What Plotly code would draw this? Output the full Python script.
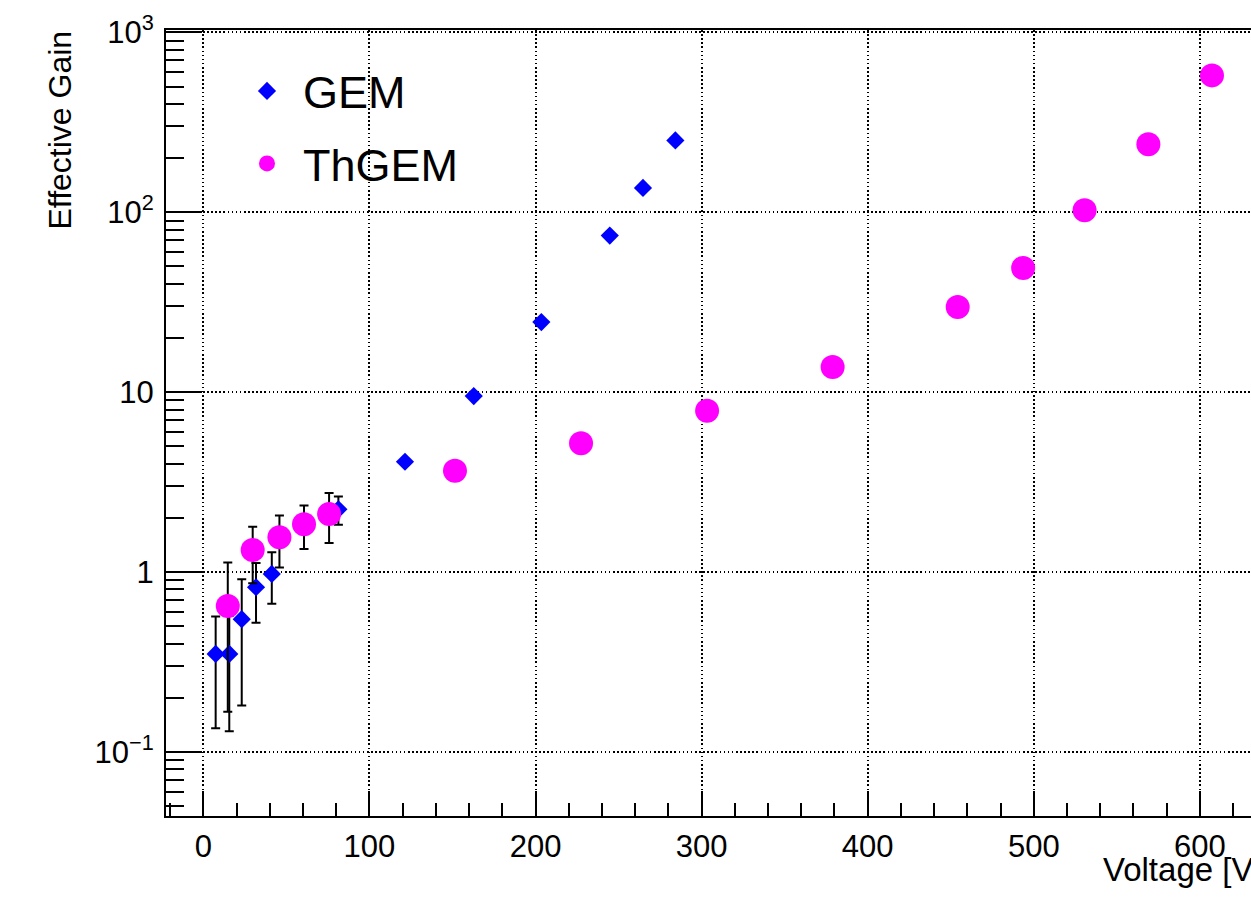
import plotly.graph_objects as go

# GEM measurements: applied voltage [V], effective gain, gain uncertainty
gem_voltage = [7.4, 15.6, 23.1, 31.7, 41.2, 81.3, 121.4, 162.8, 203.5, 244.7, 264.7, 284.2]
gem_gain = [0.35, 0.35, 0.546, 0.822, 0.975, 2.23, 4.10, 9.5, 24.5, 74.2, 136.5, 251.0]
gem_err = [0.215, 0.22, 0.365, 0.30, 0.31, 0.40, 0, 0, 0, 0, 0, 0]

# ThGEM measurements
thgem_voltage = [14.7, 29.7, 45.8, 60.6, 75.7, 151.5, 227.4, 303.3, 378.9, 454.2,
                 493.6, 530.6, 569.0, 607.3]
thgem_gain = [0.647, 1.325, 1.56, 1.84, 2.10, 3.65, 5.19, 7.87, 13.8, 29.7,
              49.0, 102.6, 239.0, 577.0]
thgem_err = [0.48, 0.46, 0.50, 0.50, 0.65, 0, 0, 0, 0, 0, 0, 0, 0, 0]

# axis ticks
x_major = [0, 100, 200, 300, 400, 500, 600]
y_major = [0.1, 1, 10, 100, 1000]
y_major_text = ["10<sup>−1</sup>", "1", "10", "10<sup>2</sup>", "10<sup>3</sup>"]
y_minor = [m * 10.0 ** e for e in range(-2, 3) for m in range(2, 10)]

FONT = "Liberation Sans, Arial, Helvetica, sans-serif"

fig = go.Figure()

fig.add_trace(go.Scatter(
    x=gem_voltage, y=gem_gain, mode="markers", name="GEM",
    marker=dict(symbol="diamond", size=14, color="#0000ff", line=dict(width=0)),
    error_y=dict(type="data", array=gem_err, visible=True, color="black",
                 thickness=2, width=4.5),
    legendgroup="a",
))
fig.add_trace(go.Scatter(
    x=thgem_voltage, y=thgem_gain, mode="markers", name="ThGEM",
    marker=dict(symbol="circle", size=24, color="#ff00ff", line=dict(width=0)),
    error_y=dict(type="data", array=thgem_err, visible=True, color="black",
                 thickness=2, width=4.5),
    legendgroup="b",
))

grid_style = dict(showgrid=True, gridcolor="black", gridwidth=1.6, griddash="1.6px,2.5px")

fig.update_xaxes(
    range=[-22.5, 630.8], tickvals=x_major,
    ticks="inside", ticklen=25, tickwidth=1.5, tickcolor="black",
    minor=dict(dtick=20, tick0=0, ticks="inside", ticklen=13, tickwidth=1.5,
               tickcolor="black", showgrid=False),
    showline=True, linecolor="black", linewidth=2, mirror=True,
    zeroline=False, ticklabelstandoff=2,
    tickfont=dict(family=FONT, size=31, color="black"),
    **grid_style,
)
fig.update_yaxes(
    type="log", range=[-1.357, 3.0135],
    tickvals=y_major, ticktext=y_major_text,
    ticks="inside", ticklen=36, tickwidth=1.5, tickcolor="black",
    minor=dict(tickvals=y_minor, ticks="inside", ticklen=18, tickwidth=1.5,
               tickcolor="black", showgrid=False),
    showline=True, linecolor="black", linewidth=2, mirror=False,
    zeroline=False, ticklabelstandoff=4,
    tickfont=dict(family=FONT, size=31, color="black"),
    **grid_style,
)

fig.add_annotation(
    text="Effective Gain", textangle=-90, showarrow=False,
    xref="paper", yref="paper", x=-0.0977, y=1.0025,
    xanchor="center", yanchor="top",
    font=dict(family=FONT, size=32, color="black"),
)
fig.add_annotation(
    text="Voltage [V]", showarrow=False,
    xref="paper", yref="paper", x=0.8618, y=-0.0675,
    xanchor="left", yanchor="middle",
    font=dict(family=FONT, size=33, color="black"),
)

fig.update_layout(
    width=1251, height=900,
    margin=dict(l=166, r=0, t=30, b=84, pad=0),
    paper_bgcolor="white", plot_bgcolor="white",
    showlegend=True,
    legend=dict(
        x=0.0599, y=0.968, xanchor="left", yanchor="top",
        bgcolor="rgba(0,0,0,0)", borderwidth=0,
        font=dict(family=FONT, size=45, color="black"),
        tracegroupgap=11, itemwidth=62,
    ),
)

fig.write_html("out.html")
